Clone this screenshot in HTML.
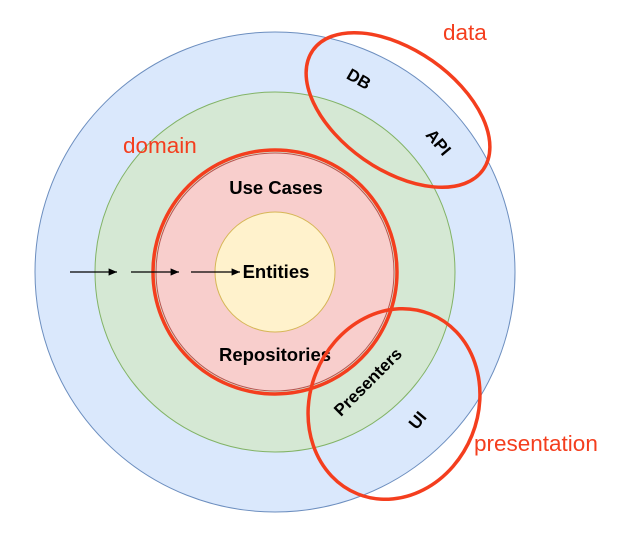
<!DOCTYPE html>
<html><head><style>body{margin:0;background:#fff}</style></head><body>
<svg width="622" height="530" xmlns="http://www.w3.org/2000/svg" font-family="Liberation Sans, sans-serif">
<defs><marker id="a" markerWidth="8" markerHeight="8" refX="7" refY="4" orient="auto"><path d="M0,1 L7,4 L0,7 z" fill="#000"/></marker></defs>
<circle cx="275" cy="272" r="240" fill="#dae8fc" stroke="#6c8ebf"/>
<circle cx="275" cy="272" r="180" fill="#d5e8d4" stroke="#82b366"/>
<circle cx="275" cy="272" r="119" fill="#f8cecc" stroke="#b85450"/>
<circle cx="275" cy="272" r="122" fill="none" stroke="#f43e1e" stroke-width="3.5"/>
<circle cx="275" cy="272" r="60" fill="#fff2cc" stroke="#d6b656"/>
<g stroke="#000" stroke-width="1.2" marker-end="url(#a)">
<line x1="70" y1="272" x2="117" y2="272"/><line x1="131" y1="272" x2="179" y2="272"/><line x1="191" y1="272" x2="240" y2="272"/>
</g>
<g font-weight="bold" font-size="18.5" text-anchor="middle" fill="#000">
<text x="276" y="278">Entities</text>
<text x="276" y="194">Use Cases</text>
<text x="275" y="361">Repositories</text>
</g>
<g font-weight="bold" font-size="17" text-anchor="middle" fill="#000">
<text transform="translate(372,386) rotate(-45)">Presenters</text>
<text transform="translate(422,424) rotate(-50)">UI</text>
<text transform="translate(356,84) rotate(30)">DB</text>
<text transform="translate(434,146) rotate(50)">API</text>
</g>
<ellipse cx="398" cy="110" rx="104" ry="60" transform="rotate(35 398 110)" fill="none" stroke="#f43e1e" stroke-width="3.5"/>
<ellipse cx="394" cy="404" rx="97" ry="84" transform="rotate(-68 394 404)" fill="none" stroke="#f43e1e" stroke-width="3.5"/>
<g fill="#f43e1e" font-size="22.5">
<text x="443" y="40">data</text>
<text x="123" y="153">domain</text>
<text x="474" y="451">presentation</text>
</g>
</svg>
</body></html>
